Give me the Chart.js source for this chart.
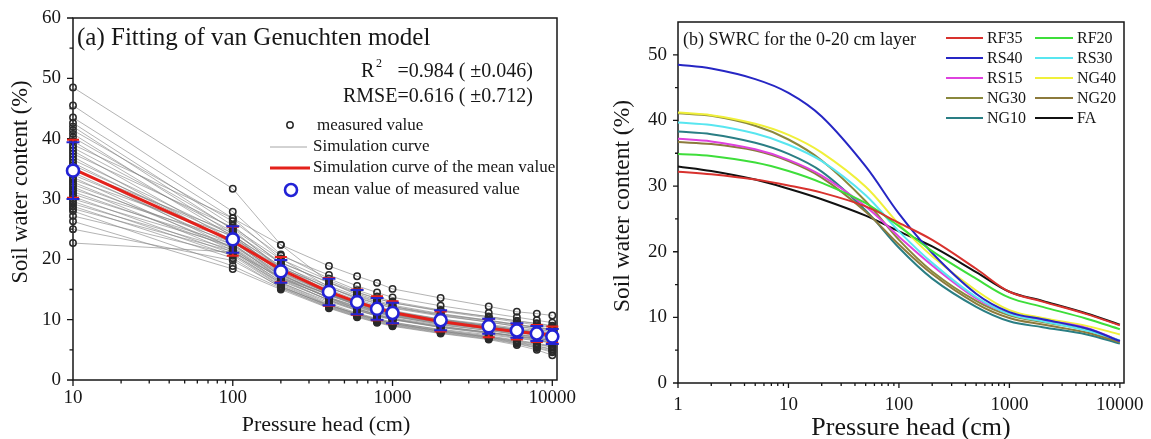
<!DOCTYPE html>
<html>
<head>
<meta charset="utf-8">
<script src="https://cdn.jsdelivr.net/npm/chart.js@4.4.1/dist/chart.umd.min.js"></script>
<style>
  html, body { margin: 0; padding: 0; background: #ffffff; }
  #wrap { position: relative; width: 1151px; height: 439px; overflow: hidden; }
  canvas { position: absolute; top: 0; }
  #chartA { left: 0; }
  #chartB { left: 580px; }
</style>
</head>
<body>
<div id="wrap">
  <canvas id="chartA" width="580" height="439"></canvas>
  <canvas id="chartB" width="571" height="439"></canvas>
</div>
<script>
// ---------- (a) van Genuchten fits: pressure heads (cm) and water contents (%) ----------
const headsA = [10, 100, 200, 400, 600, 800, 1000, 2000, 4000, 6000, 8000, 10000];

// one row per soil sample, values at headsA
const sampleCurves = [
  [48.5, 31.7, 22.4, 16.2, 14.1, 13.0, 12.2, 10.7, 9.6, 8.9, 8.4, 8.0],
  [45.5, 27.9, 20.8, 16.8, 14.9, 13.8, 13.0, 11.6, 10.5, 9.8, 9.3, 8.9],
  [43.5, 26.8, 20.1, 15.4, 13.4, 12.3, 11.5, 10.1, 9.0, 8.3, 7.9, 7.5],
  [42.6, 25.6, 19.2, 15.0, 13.2, 12.1, 11.4, 10.0, 9.0, 8.4, 7.9, 7.5],
  [42.0, 24.9, 18.4, 14.2, 12.4, 11.3, 10.6, 9.2, 8.2, 7.5, 7.1, 6.7],
  [41.4, 26.3, 20.6, 17.4, 15.6, 14.5, 13.7, 12.3, 11.1, 10.4, 9.9, 9.5],
  [40.8, 24.2, 17.6, 13.6, 11.8, 10.8, 10.1, 8.7, 7.7, 7.0, 6.6, 6.2],
  [40.2, 25.1, 19.5, 16.1, 14.3, 13.2, 12.4, 11.0, 9.9, 9.2, 8.7, 8.3],
  [39.6, 23.8, 17.9, 14.3, 12.6, 11.6, 10.9, 9.6, 8.6, 8.0, 7.5, 7.1],
  [39.0, 26.8, 22.4, 18.9, 17.2, 16.1, 15.1, 13.6, 12.2, 11.3, 11.0, 10.7],
  [38.5, 24.6, 18.7, 14.8, 13.0, 11.9, 11.2, 9.8, 8.8, 8.1, 7.7, 7.3],
  [38.0, 23.1, 17.2, 13.5, 11.8, 10.8, 10.2, 8.9, 7.9, 7.3, 6.9, 6.5],
  [37.5, 25.3, 20.0, 16.5, 14.6, 13.5, 12.8, 11.4, 10.3, 9.6, 9.1, 8.7],
  [37.0, 22.6, 16.8, 13.2, 11.6, 10.6, 10.0, 8.7, 7.8, 7.2, 6.8, 6.4],
  [36.5, 24.0, 18.6, 15.3, 13.6, 12.6, 11.9, 10.6, 9.6, 8.9, 8.5, 8.1],
  [36.0, 22.9, 17.5, 14.1, 12.4, 11.4, 10.8, 9.5, 8.5, 7.9, 7.5, 7.1],
  [35.6, 23.7, 18.2, 14.6, 12.9, 11.9, 11.2, 9.9, 8.9, 8.2, 7.8, 7.4],
  [35.2, 21.8, 16.2, 12.7, 11.1, 10.2, 9.6, 8.3, 7.3, 6.6, 6.1, 5.6],
  [34.8, 24.4, 19.4, 16.2, 14.5, 13.5, 12.8, 11.5, 10.5, 9.8, 9.4, 9.0],
  [34.4, 22.4, 17.0, 13.6, 12.0, 11.1, 10.5, 9.3, 8.4, 7.8, 7.4, 7.0],
  [34.0, 23.2, 17.9, 14.4, 12.7, 11.7, 11.0, 9.7, 8.7, 8.1, 7.7, 7.3],
  [33.6, 21.5, 16.0, 12.5, 10.9, 10.0, 9.4, 8.1, 7.1, 6.4, 5.9, 5.4],
  [33.2, 23.9, 18.9, 15.6, 13.9, 12.9, 12.2, 10.9, 9.9, 9.2, 8.8, 8.4],
  [32.8, 22.0, 16.9, 13.7, 12.1, 11.2, 10.6, 9.4, 8.5, 7.9, 7.5, 7.2],
  [32.4, 22.8, 17.7, 14.3, 12.6, 11.6, 10.9, 9.5, 8.4, 7.6, 7.0, 6.5],
  [32.0, 21.2, 15.8, 12.4, 10.9, 10.0, 9.4, 8.2, 7.2, 6.5, 6.0, 5.5],
  [31.6, 23.4, 18.6, 15.3, 13.7, 12.7, 12.0, 10.8, 9.8, 9.1, 8.7, 8.3],
  [31.2, 21.9, 16.6, 13.2, 11.6, 10.7, 10.1, 8.9, 7.9, 7.2, 6.7, 6.2],
  [30.8, 22.5, 17.4, 14.0, 12.4, 11.5, 10.9, 9.7, 8.8, 8.2, 7.8, 7.4],
  [30.4, 20.9, 15.6, 12.2, 10.7, 9.8, 9.2, 8.0, 7.0, 6.2, 5.6, 5.0],
  [30.0, 22.2, 17.3, 14.1, 12.6, 11.7, 11.1, 9.9, 9.0, 8.4, 8.0, 7.7],
  [29.6, 20.6, 15.5, 12.3, 10.8, 9.9, 9.3, 8.1, 7.1, 6.3, 5.7, 5.1],
  [29.2, 21.6, 16.8, 13.7, 12.2, 11.3, 10.7, 9.5, 8.6, 8.0, 7.6, 7.2],
  [28.8, 20.2, 15.3, 12.1, 10.6, 9.7, 9.1, 7.9, 6.9, 6.1, 5.4, 4.8],
  [28.4, 21.3, 16.4, 13.3, 11.8, 10.9, 10.3, 9.1, 8.2, 7.6, 7.2, 6.8],
  [28.0, 18.9, 15.2, 12.0, 10.5, 9.6, 9.0, 7.8, 6.8, 6.0, 5.3, 4.6],
  [27.2, 20.8, 16.1, 13.0, 11.5, 10.6, 10.0, 8.8, 7.9, 7.3, 6.9, 6.5],
  [26.3, 18.4, 15.0, 11.9, 10.4, 9.5, 8.9, 7.7, 6.7, 5.8, 5.0, 4.1],
  [25.0, 19.8, 15.4, 12.4, 11.0, 10.1, 9.5, 8.4, 7.5, 6.9, 6.5, 6.1],
  [22.7, 21.2, 17.0, 14.2, 12.8, 11.9, 11.3, 10.1, 9.2, 8.6, 8.2, 7.8]
];

const meanMeasured = [34.7, 23.3, 18.0, 14.6, 12.9, 11.8, 11.1, 9.9, 8.9, 8.2, 7.7, 7.2];
const sdMeasured   = [4.7, 2.2, 1.9, 2.2, 2.0, 1.8, 1.7, 1.65, 1.25, 1.2, 1.25, 1.25];
const meanCurve    = [35.0, 23.0, 18.3, 14.6, 12.9, 11.9, 11.2, 9.7, 8.6, 8.0, 7.7, 7.5];
const sdCurve      = [4.8, 2.4, 2.1, 2.3, 2.1, 2.0, 1.85, 1.65, 1.5, 1.3, 1.4, 1.35];

const xTicksA = [10, 100, 1000, 10000];
const yTicksA = [0, 10, 20, 30, 40, 50, 60];
const yMinorA = [5, 15, 25, 35, 45, 55];

// ---------- (b) retention curves of the 0-20 cm layer ----------
const headsB = [1, 2, 5, 10, 20, 50, 100, 200, 500, 1000, 2000, 5000, 10000];
const RF35 = [32.2, 31.8, 31.0, 30.1, 29.0, 26.9, 24.4, 21.8, 17.4, 13.9, 12.4, 10.5, 8.8];
const RF20 = [34.9, 34.6, 33.6, 32.3, 30.5, 27.4, 23.9, 20.1, 15.9, 13.0, 11.6, 9.8, 8.2];
const RS40 = [48.5, 47.9, 46.3, 44.2, 40.6, 33.0, 25.8, 19.8, 13.6, 10.8, 9.7, 8.3, 6.4];
const RS30 = [39.7, 39.3, 38.0, 36.3, 33.8, 28.6, 23.1, 18.3, 13.1, 10.5, 9.4, 8.0, 6.5];
const RS15 = [37.2, 36.8, 35.6, 34.0, 31.6, 26.9, 22.3, 17.9, 12.9, 10.6, 9.6, 8.4, 6.4];
const NG40 = [41.2, 40.8, 39.5, 37.8, 35.1, 29.9, 24.2, 19.3, 14.1, 11.1, 9.9, 8.7, 7.4];
const NG30 = [41.1, 40.7, 39.2, 37.1, 33.9, 27.7, 21.8, 17.0, 12.5, 10.3, 9.3, 8.1, 6.3];
const NG20 = [36.7, 36.4, 35.4, 33.8, 31.3, 26.1, 21.1, 16.6, 12.1, 9.9, 8.9, 7.7, 6.2];
const NG10 = [38.3, 37.9, 36.6, 34.9, 32.2, 26.3, 20.6, 15.9, 11.6, 9.4, 8.5, 7.4, 6.0];
const FA   = [33.0, 32.3, 31.0, 29.6, 28.0, 25.5, 23.1, 20.8, 16.9, 13.9, 12.5, 10.6, 8.9];

const treatments = ['RF35', 'RF20', 'RS40', 'RS30', 'RS15', 'NG40', 'NG30', 'NG20', 'NG10', 'FA'];
const treatmentValues = [RF35, RF20, RS40, RS30, RS15, NG40, NG30, NG20, NG10, FA];

const xTicksB = [1, 10, 100, 1000, 10000];
const yTicksB = [0, 10, 20, 30, 40, 50];
const yMinorB = [5, 15, 25, 35, 45];

// ---------- shared styling ----------
const serif = "'Liberation Serif', 'Times New Roman', Times, serif";
const ink = '#161616';
const colorsB = {
  RF35: '#d8322e', RF20: '#3ede3a', RS40: '#2626c4', RS30: '#58e6f0', RS15: '#de42de',
  NG40: '#f0f03a', NG30: '#8a883c', NG20: '#8c7a3c', NG10: '#2a7e84', FA: '#111111'
};

function minorLogTicks(from, to) {
  const out = [];
  for (let d = from; d < to; d *= 10) for (let k = 2; k <= 9; k++) out.push(d * k);
  return out;
}

// box around the plot area, outward major/minor tick marks and the two axis titles
function makeFrame(id, cfg) {
  return {
    id,
    beforeDatasetsDraw(chart) {
      const { ctx, chartArea: a, scales: { x, y } } = chart;
      ctx.save();
      ctx.strokeStyle = ink;
      ctx.lineWidth = cfg.frameWidth;
      ctx.strokeRect(a.left, a.top, a.right - a.left, a.bottom - a.top);
      ctx.lineWidth = cfg.tickWidth;
      ctx.beginPath();
      const down = (vals, len) => vals.forEach(v => {
        const p = x.getPixelForValue(v);
        ctx.moveTo(p, a.bottom); ctx.lineTo(p, a.bottom + len);
      });
      const left = (vals, len) => vals.forEach(v => {
        const p = y.getPixelForValue(v);
        ctx.moveTo(a.left, p); ctx.lineTo(a.left - len, p);
      });
      down(cfg.xMajor, cfg.major); down(cfg.xMinor, cfg.minor);
      left(cfg.yMajor, cfg.major); left(cfg.yMinor, cfg.minor);
      ctx.stroke();

      ctx.fillStyle = ink;
      ctx.textAlign = 'center';
      ctx.textBaseline = 'middle';
      ctx.font = `${cfg.xTitle.size}px ${serif}`;
      ctx.fillText('Pressure head (cm)', cfg.xTitle.x, cfg.xTitle.y);
      ctx.translate(cfg.yTitle.x, cfg.yTitle.y);
      ctx.rotate(-Math.PI / 2);
      ctx.font = `${cfg.yTitle.size}px ${serif}`;
      ctx.fillText('Soil water content (%)', 0, 0);
      ctx.restore();
    }
  };
}

function axisX(min, max, ticks, height, pad) {
  return {
    type: 'logarithmic', min, max,
    afterBuildTicks: s => { s.ticks = ticks.map(v => ({ value: v })); },
    afterFit: s => { s.height = height; s.paddingLeft = 0; s.paddingRight = 0; },
    grid: { display: false, drawTicks: false },
    border: { display: false },
    ticks: { callback: v => String(v), font: { family: serif, size: 19 }, color: ink, padding: pad, maxRotation: 0, autoSkip: false }
  };
}

function axisY(min, max, ticks, width, pad) {
  return {
    type: 'linear', min, max,
    afterBuildTicks: s => { s.ticks = ticks.map(v => ({ value: v })); },
    afterFit: s => { s.width = width; s.paddingTop = 0; s.paddingBottom = 0; },
    grid: { display: false, drawTicks: false },
    border: { display: false },
    ticks: { font: { family: serif, size: 19 }, color: ink, padding: pad, autoSkip: false }
  };
}

// ---------- chart (a) ----------
const grayCurves = sampleCurves.map(row => ({
  data: row.map((v, i) => ({ x: headsA[i], y: v })),
  borderColor: 'rgba(128,128,128,0.6)', borderWidth: 1, pointRadius: 0,
  tension: 0, order: 5, clip: false
}));

const measuredPoints = {
  data: sampleCurves.flatMap(row => row.map((v, i) => ({ x: headsA[i], y: v }))),
  showLine: false, pointRadius: 3.2, pointBorderWidth: 1.5,
  pointBorderColor: '#2a2a2a', pointBackgroundColor: 'rgba(255,255,255,0)', order: 4, clip: false
};

const meanCurveSet = {
  data: meanCurve.map((v, i) => ({ x: headsA[i], y: v })),
  borderColor: '#e4211b', borderWidth: 3, pointRadius: 0,
  tension: 0, borderJoinStyle: 'round', order: 3, clip: false
};

const meanMarkerSet = {
  data: meanMeasured.map((v, i) => ({ x: headsA[i], y: v })),
  showLine: false, pointRadius: 6, pointBorderWidth: 2.6,
  pointBorderColor: '#2222d6', pointBackgroundColor: '#ffffff', order: 1, clip: false,
  meanMarkers: true
};

// error bars: red for the fitted mean curve, blue for the measured mean
const errorBarsA = {
  id: 'errorBarsA',
  beforeDatasetDraw(chart, args) {
    if (!chart.data.datasets[args.index].meanMarkers) return;
    const { ctx, scales: { x, y } } = chart;
    const bar = (px, lo, hi, color, half, w) => {
      ctx.strokeStyle = color; ctx.lineWidth = w;
      ctx.beginPath();
      ctx.moveTo(px, lo); ctx.lineTo(px, hi);
      ctx.moveTo(px - half, lo); ctx.lineTo(px + half, lo);
      ctx.moveTo(px - half, hi); ctx.lineTo(px + half, hi);
      ctx.stroke();
    };
    ctx.save();
    headsA.forEach((h, i) => {
      bar(x.getPixelForValue(h), y.getPixelForValue(meanCurve[i] - sdCurve[i]),
          y.getPixelForValue(meanCurve[i] + sdCurve[i]), '#e4211b', 6, 2);
    });
    headsA.forEach((h, i) => {
      bar(x.getPixelForValue(h), y.getPixelForValue(meanMeasured[i] - sdMeasured[i]),
          y.getPixelForValue(meanMeasured[i] + sdMeasured[i]), '#2424d0', 6.5, 2);
    });
    ctx.restore();
  }
};

const notesA = {
  id: 'notesA',
  afterDraw(chart) {
    const ctx = chart.ctx;
    ctx.save();
    ctx.fillStyle = ink;
    ctx.textBaseline = 'middle';
    ctx.textAlign = 'left';
    ctx.font = `25px ${serif}`;
    ctx.fillText('(a) Fitting of van Genuchten model', 77, 38);

    ctx.font = `20px ${serif}`;
    ctx.fillText('R', 361, 72);
    ctx.font = `12px ${serif}`;
    ctx.fillText('2', 376, 64);
    ctx.font = `20px ${serif}`;
    ctx.textAlign = 'right';
    ctx.fillText('=0.984 ( \u00b10.046)', 533, 72);
    ctx.fillText('RMSE=0.616 ( \u00b10.712)', 533, 97);

    // legend
    ctx.textAlign = 'left';
    ctx.font = `17px ${serif}`;
    ctx.strokeStyle = '#2a2a2a'; ctx.lineWidth = 1.5;
    ctx.beginPath(); ctx.arc(290, 125, 3.2, 0, Math.PI * 2); ctx.stroke();
    ctx.fillText('measured value', 317, 126);

    ctx.strokeStyle = 'rgba(128,128,128,0.7)'; ctx.lineWidth = 1;
    ctx.beginPath(); ctx.moveTo(270, 147); ctx.lineTo(307, 147); ctx.stroke();
    ctx.fillText('Simulation curve', 313, 147);

    ctx.strokeStyle = '#e4211b'; ctx.lineWidth = 3;
    ctx.beginPath(); ctx.moveTo(270, 168); ctx.lineTo(310, 168); ctx.stroke();
    ctx.fillText('Simulation curve of the mean value', 313, 168);

    ctx.strokeStyle = '#2222d6'; ctx.lineWidth = 2.6; ctx.fillStyle = '#ffffff';
    ctx.beginPath(); ctx.arc(291, 190, 6, 0, Math.PI * 2); ctx.fill(); ctx.stroke();
    ctx.fillStyle = ink;
    ctx.fillText('mean value of measured value', 313, 190);
    ctx.restore();
  }
};

new Chart(document.getElementById('chartA'), {
  type: 'line',
  data: { datasets: [...grayCurves, measuredPoints, meanCurveSet, meanMarkerSet] },
  options: {
    responsive: false, animation: false, devicePixelRatio: 1, events: [],
    layout: { padding: { left: 0, right: 23, top: 18, bottom: 0 } },
    plugins: { legend: { display: false }, tooltip: { enabled: false } },
    scales: {
      x: axisX(10, 10700, xTicksA, 59, 7),
      y: axisY(0, 60, yTicksA, 73, 12)
    }
  },
  plugins: [
    makeFrame('frameA', { xMajor: xTicksA, xMinor: minorLogTicks(10, 10000), yMajor: yTicksA, yMinor: yMinorA,
                          major: 6, minor: 3.5, frameWidth: 1.5, tickWidth: 1.3,
                          xTitle: { x: 326, y: 425, size: 22 }, yTitle: { x: 21, y: 182, size: 22.5 } }),
    errorBarsA, notesA
  ]
});

// ---------- chart (b) ----------
const curvesB = treatments.map((name, k) => ({
  label: name,
  data: treatmentValues[k].map((v, i) => ({ x: headsB[i], y: v })),
  borderColor: colorsB[name], borderWidth: 2, pointRadius: 0,
  cubicInterpolationMode: 'default', tension: 0.35, clip: false
}));

const notesB = {
  id: 'notesB',
  afterDraw(chart) {
    const ctx = chart.ctx;
    ctx.save();
    ctx.fillStyle = ink;
    ctx.textBaseline = 'middle';
    ctx.textAlign = 'left';
    ctx.font = `18px ${serif}`;
    ctx.fillText('(b) SWRC for the 0-20 cm layer', 103, 40);

    ctx.font = `16px ${serif}`;
    const cols = [{ x0: 366, x1: 403, tx: 407 }, { x0: 455, x1: 493, tx: 497 }];
    treatments.forEach((name, k) => {
      const c = cols[k % 2];
      const yy = 38 + Math.floor(k / 2) * 20;
      ctx.strokeStyle = colorsB[name]; ctx.lineWidth = 2;
      ctx.beginPath(); ctx.moveTo(c.x0, yy); ctx.lineTo(c.x1, yy); ctx.stroke();
      ctx.fillText(name, c.tx, yy + 1);
    });
    ctx.restore();
  }
};

new Chart(document.getElementById('chartB'), {
  type: 'line',
  data: { datasets: curvesB },
  options: {
    responsive: false, animation: false, devicePixelRatio: 1, events: [],
    layout: { padding: { left: 0, right: 27, top: 22, bottom: 0 } },
    plugins: { legend: { display: false }, tooltip: { enabled: false } },
    scales: {
      x: axisX(1, 10900, xTicksB, 56, 11),
      y: axisY(0, 55, yTicksB, 98, 11)
    }
  },
  plugins: [
    makeFrame('frameB', { xMajor: xTicksB, xMinor: minorLogTicks(1, 10000), yMajor: yTicksB, yMinor: yMinorB,
                          major: 5, minor: 3, frameWidth: 1.5, tickWidth: 1.3,
                          xTitle: { x: 331, y: 428, size: 26 }, yTitle: { x: 43, y: 206, size: 23.5 } }),
    notesB
  ]
});
</script>
</body>
</html>
